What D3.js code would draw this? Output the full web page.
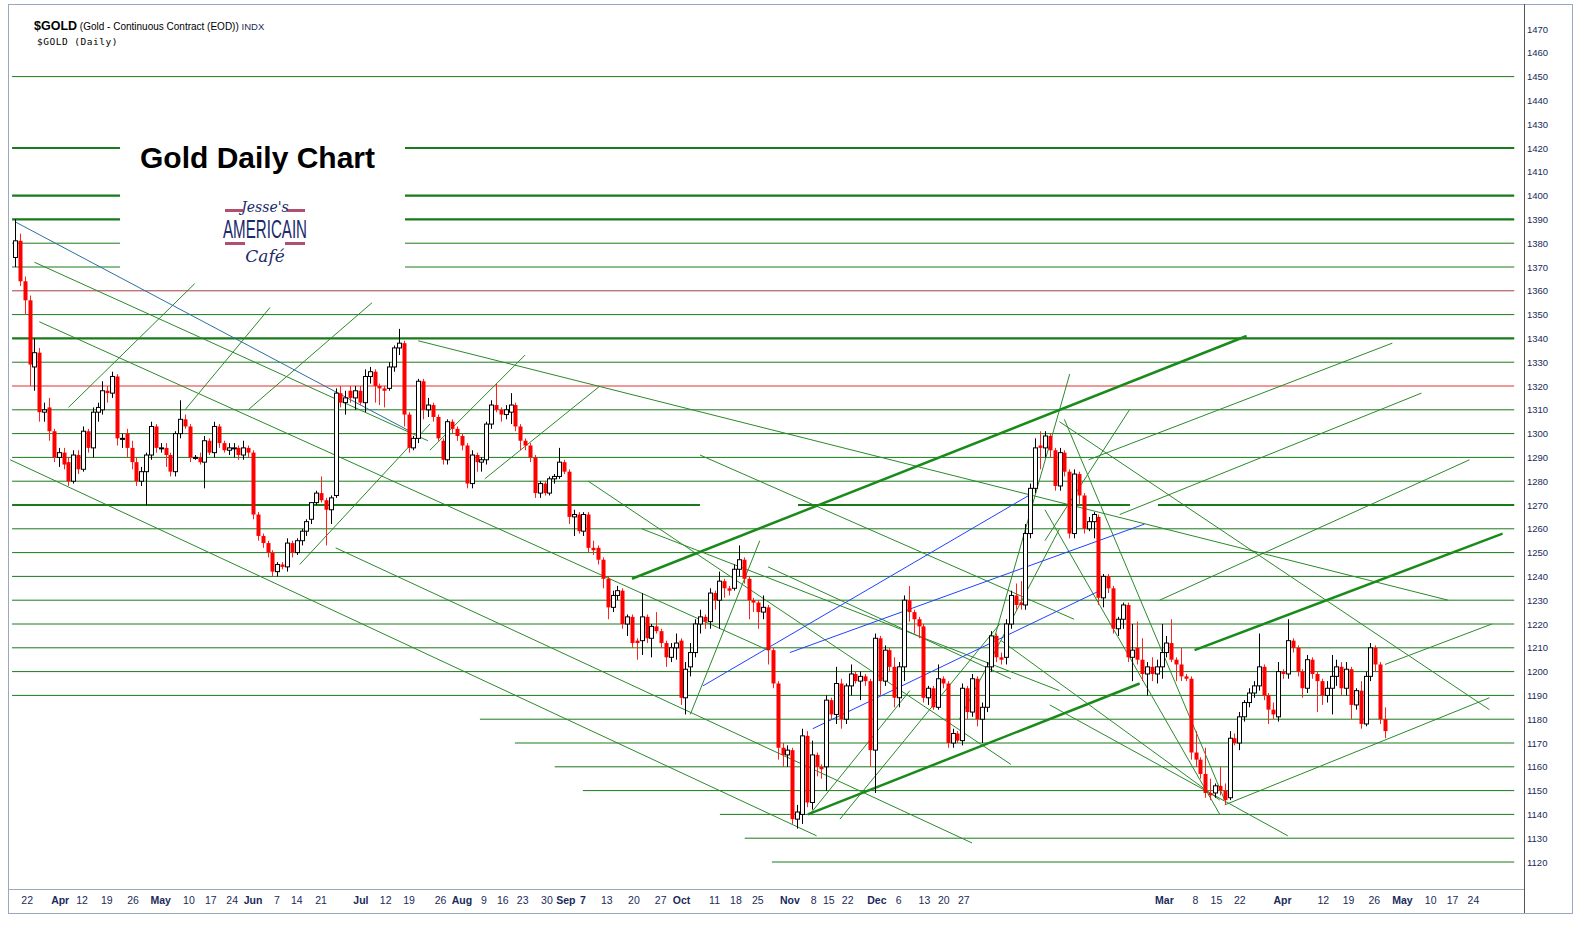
<!DOCTYPE html>
<html><head><meta charset="utf-8">
<script src="https://cdn.jsdelivr.net/npm/d3@7"></script>
<style>html,body{margin:0;padding:0;background:#fff;overflow:hidden}svg{display:block}</style>
</head><body><svg id="c" width="1578" height="934"></svg>
<script>
// ---- DATA ----
const ohlc = [
[1374,1390,1370,1381],[1381,1384,1362,1364],[1364,1366,1350,1356],[1356,1358,1320,1329],[1328,1340,1318,1334],
[1334,1336,1305,1309],[1309,1313,1305,1310],[1311,1315,1297,1301],[1301,1302,1288,1290],[1290,1294,1286,1292],
[1292,1294,1285,1287],[1288,1290,1278,1280],[1280,1293,1279,1291],[1291,1293,1283,1285],[1285,1303,1284,1301],
[1301,1302,1292,1294],[1294,1311,1290,1309],[1309,1313,1305,1311],[1310,1322,1308,1318],[1318,1320,1313,1317],
[1317,1326,1315,1324],[1324,1325,1295,1298],[1298,1300,1294,1298],[1300,1302,1290,1294],[1294,1297,1285,1288],
[1288,1290,1278,1280],[1280,1286,1278,1284],[1284,1292,1270,1291],[1291,1305,1289,1303],[1303,1304,1292,1294],
[1294,1296,1292,1294],[1294,1296,1286,1291],[1291,1292,1282,1284],[1284,1301,1282,1300],[1300,1314,1298,1306],
[1306,1308,1302,1303],[1303,1304,1288,1290],[1290,1291,1289,1290],[1290,1292,1287,1288],[1288,1299,1277,1297],
[1297,1298,1291,1292],[1292,1305,1290,1303],[1303,1304,1294,1296],[1296,1297,1292,1293],[1293,1296,1291,1294],
[1294,1296,1290,1294],[1294,1295,1289,1291],[1291,1297,1289,1294],[1294,1295,1290,1292],[1292,1293,1264,1266],
[1266,1267,1255,1257],[1257,1258,1252,1254],[1254,1255,1248,1250],[1250,1251,1240,1242],[1242,1246,1240,1245],
[1245,1246,1243,1244],[1244,1256,1242,1254],[1254,1255,1248,1250],[1250,1256,1249,1255],[1255,1260,1253,1259],
[1259,1264,1257,1263],[1264,1271,1262,1271],[1271,1276,1270,1275],[1275,1282,1271,1272],[1272,1273,1253,1268],
[1268,1274,1262,1273],[1274,1319,1273,1317],[1317,1320,1311,1313],
[1313,1318,1308,1315],[1318,1320,1313,1315],[1315,1320,1310,1318],[1318,1320,1312,1313],[1313,1327,1309,1324],
[1324,1328,1321,1326],[1326,1327,1313,1320],[1320,1321,1312,1319],[1319,1320,1311,1318],[1319,1330,1318,1328],
[1328,1337,1326,1336],[1336,1344,1333,1338],[1338,1339,1303,1308],[1308,1309,1292,1294],[1294,1299,1293,1298],
[1298,1323,1296,1322],[1322,1323,1306,1310],[1310,1315,1307,1312],[1312,1313,1305,1307],[1307,1308,1297,1298],
[1297,1298,1287,1289],[1289,1306,1287,1305],[1305,1306,1300,1302],[1302,1303,1297,1299],[1299,1300,1293,1295],
[1295,1296,1277,1279],[1279,1293,1277,1291],[1291,1292,1284,1288],[1288,1290,1284,1289],[1289,1305,1287,1304],
[1304,1314,1302,1312],[1312,1321,1309,1310],[1310,1311,1305,1308],[1308,1312,1306,1310],[1309,1317,1304,1312],
[1312,1313,1301,1303],[1303,1304,1293,1297],[1297,1298,1293,1295],[1295,1296,1288,1290],[1290,1291,1273,1275],
[1275,1280,1273,1279],[1279,1280,1274,1275],[1275,1282,1274,1281],[1281,1283,1279,1282],[1282,1294,1281,1288],
[1288,1289,1283,1284],[1284,1285,1262,1265],[1265,1268,1257,1266],[1266,1267,1258,1259],[1259,1267,1257,1266],
[1266,1267,1250,1252],[1252,1255,1249,1251],[1252,1253,1245,1247],[1247,1248,1235,1239],[1239,1240,1222,1227],
[1227,1234,1225,1232],[1232,1236,1230,1234],[1234,1235,1218,1220],[1220,1224,1215,1223],[1223,1224,1210,1212],
[1213,1214,1205,1212],[1213,1233,1207,1223],[1223,1224,1212,1214],[1214,1220,1206,1219],[1219,1225,1216,1217],
[1217,1218,1210,1212],[1212,1213,1202,1206],[1206,1212,1204,1210],[1210,1216,1205,1212],[1213,1214,1186,1189],
[1189,1204,1182,1201],[1202,1212,1198,1208],[1208,1222,1206,1220],[1220,1226,1216,1223],[1223,1224,1218,1221],
[1221,1235,1218,1233],[1233,1234,1226,1230],[1230,1242,1218,1238],[1238,1239,1231,1235],[1235,1236,1232,1234],
[1235,1245,1234,1243],[1243,1253,1240,1247],[1247,1248,1237,1239],[1239,1240,1222,1230],[1230,1231,1225,1229],
[1229,1230,1218,1225],[1225,1232,1222,1227],[1227,1228,1203,1209],[1209,1210,1193,1195],[1195,1196,1163,1168],
[1168,1170,1160,1165],[1165,1169,1160,1167],[1167,1168,1136,1138],[1138,1144,1134,1141],[1140,1176,1136,1173],
[1173,1175,1143,1145],[1145,1171,1142,1165],[1165,1166,1156,1160],[1160,1161,1155,1159],[1160,1190,1150,1188],
[1188,1189,1180,1182],[1182,1202,1178,1195],[1195,1197,1176,1180],[1180,1195,1178,1194],[1194,1203,1190,1199],
[1199,1200,1195,1196],[1196,1200,1188,1198],[1198,1199,1194,1196],[1196,1197,1160,1167],[1167,1216,1149,1214],
[1214,1215,1190,1196],[1196,1211,1194,1209],[1209,1210,1200,1202],[1202,1206,1185,1189],[1189,1204,1185,1202],
[1202,1232,1196,1230],[1230,1236,1221,1225],[1225,1226,1216,1222],[1222,1223,1214,1219],[1219,1220,1187,1189],
[1189,1194,1186,1193],[1193,1194,1184,1185],[1185,1203,1184,1197],[1197,1198,1193,1195],[1195,1196,1168,1170],
[1170,1176,1168,1174],[1174,1175,1170,1171],[1171,1195,1169,1193],[1193,1194,1180,1183],[1183,1199,1181,1197],
[1197,1198,1177,1180],[1180,1187,1170,1185],[1185,1204,1183,1202],[1202,1217,1200,1215],[1215,1216,1204,1206],
[1206,1208,1203,1205],[1206,1222,1203,1220],[1220,1234,1218,1232],[1232,1237,1226,1228],[1229,1238,1226,1228],
[1228,1262,1226,1258],[1258,1279,1256,1277],
[1277,1298,1275,1294],[1295,1301,1285,1294],[1294,1301,1290,1299],[1299,1300,1290,1293],[1293,1294,1276,1278],
[1278,1294,1276,1292],[1292,1293,1282,1284],[1284,1285,1256,1258],[1258,1285,1256,1283],[1283,1284,1270,1274],
[1274,1275,1258,1260],[1260,1265,1259,1263],[1263,1267,1256,1266],[1265,1266,1228,1231],[1231,1241,1227,1240],
[1240,1241,1233,1235],[1235,1236,1216,1218],[1218,1223,1215,1222],[1222,1229,1218,1228],[1228,1229,1204,1206],
[1206,1220,1196,1209],[1210,1221,1203,1205],[1205,1214,1196,1199],[1199,1204,1190,1202],[1202,1206,1196,1199],
[1199,1205,1195,1202],[1202,1220,1197,1208],[1208,1215,1206,1212],[1212,1222,1204,1205],[1205,1206,1196,1203],
[1203,1210,1196,1198],[1198,1199,1196,1197],[1197,1198,1163,1166],[1166,1175,1160,1163],[1163,1164,1155,1157],
[1157,1168,1147,1149],[1149,1155,1146,1148],[1149,1153,1147,1152],[1152,1160,1148,1150],[1150,1153,1144,1146],
[1147,1175,1146,1172],[1172,1174,1169,1170],[1170,1183,1167,1181],[1181,1188,1179,1187],[1187,1193,1185,1191],
[1191,1196,1189,1194],[1194,1216,1192,1202],[1202,1203,1188,1190],[1190,1191,1178,1184],[1184,1187,1180,1182],
[1181,1204,1179,1200],[1200,1201,1197,1199],[1199,1222,1197,1213],[1213,1214,1208,1210],[1210,1211,1198,1200],
[1200,1201,1189,1193],[1193,1207,1191,1205],[1205,1206,1197,1199],[1199,1200,1183,1196],[1196,1197,1186,1190],
[1190,1196,1187,1193],[1193,1207,1182,1198],[1198,1205,1194,1202],[1202,1204,1190,1193],[1193,1204,1190,1201],
[1201,1202,1180,1186],[1186,1193,1184,1192],[1192,1196,1176,1178],[1178,1200,1177,1198],[1198,1212,1196,1210],
[1210,1211,1200,1203],[1203,1204,1178,1180],[1180,1185,1172,1175]
];
const tickLabels = ["22","Apr","12","19","26","May","10","17","24","Jun","7","14","21","Jul","12","19","26","Aug","9","16","23","30","Sep","7","13","20","27","Oct","11","18","25","Nov","8","15","22","Dec","6","13","20","27","Mar","8","15","22","Apr","12","19","26","May","10","17","24"];
const tickPos = [2.5,9.3,13.8,18.9,24.3,30,35.8,40.3,44.7,49,53.9,58,63,71.2,76.3,81.1,87.6,92,96.5,100.4,104.5,109.5,113.4,116.9,121.8,127.4,132.9,137.2,144,148.4,152.9,159.5,164.4,167.5,171.4,177.4,181.9,187.2,191.2,195.3,236.6,243,247.3,252.1,260.9,269.3,274.5,279.8,285.6,291.4,295.9,300.2];
const monthLabels = ["Apr","May","Jun","Jul","Aug","Sep","Oct","Nov","Dec","Mar"];
const priceTicks = d3.range(1120,1471,10);
const levels = [1120,1130,1140,1150,1160,1170,1180,1190,1200,1210,1220,1230,1240,1250,1260,1270,1280,1290,1300,1310,1320,1330,1340,1350,1360,1370,1380,1390,1400,1420,1450];
const levelStart = {1120:155.8,1130:150.2,1140:145.1,1150:116.9,1160:111.1,1170:102.9,1180:95.7};
const thickLevels = [1270,1340,1390,1400,1420];
const redLevels = [1320,1360];
const titleGapLevels = [1370,1380,1390,1400,1420];
// trend lines [idx1, price1, idx2, price2]
const thickLines = [[127,1239,253.5,1341],[163.2,1140,231.5,1195],[242.8,1209,306.2,1258]];
const thinLines = [
[83,1339,295,1230],[-1,1289,165,1131],[66,1252,197,1128],[4,1372,85,1297],[5,1347,155,1209],
[118,1280,205,1161],[141,1291,218,1222],[215,1305,303.5,1184],[216,1306,249,1146],[212,1268,248,1140],
[213,1186,262,1131],[155,1244,205,1197],[129,1260,215,1192],[203,1213,248,1146],
[11,1311,37,1363],[35,1310,52.5,1353],[48,1310,73.5,1355],[58.6,1245,85.4,1304],[85.4,1293,105,1333],
[96.7,1281,120.4,1320],[221,1289,283.5,1338],[227.4,1266,289.5,1317],[235.6,1230,299.4,1289],
[282,1203,304,1220],[249,1144,303.5,1189],[163.6,1140,184.2,1192],[169.8,1138,202.7,1220],
[200.6,1207,217.1,1325],[194.4,1180,215,1260],[212,1255,229.4,1310],[139,1182,153.3,1255]
];
const blueLines = [[141.6,1194,209.5,1275],[159.5,1208,232.5,1262],[164.2,1176,223.3,1234]];
const tealLines = [[0,1389,81.3,1301]];

// ---- DRAW ----
const svg = d3.select("#c");
const x = d3.scaleLinear().domain([0,282]).range([15,1385]);
const y = d3.scaleLinear().domain([1120,1470]).range([862,29]);
const xLeft = -0.6, xRight = 308.6;

svg.append("rect").attr("x",8.5).attr("y",4.5).attr("width",1564).attr("height",909).attr("fill","#fff").attr("stroke","#9aa8c0");
svg.append("line").attr("x1",1524.5).attr("x2",1524.5).attr("y1",4).attr("y2",913).attr("stroke","#555");
svg.append("line").attr("x1",8).attr("x2",1524).attr("y1",889.5).attr("y2",889.5).attr("stroke","#9aa8c0");

const g = svg.append("g");
levels.forEach(p=>{
  const thick = thickLevels.includes(p), red = redLevels.includes(p);
  const col = red ? (p===1320?"#e03030":"#a04040") : "#1a7a1a";
  const sw = thick ? 2.2 : 1;
  const x0 = x(levelStart[p] !== undefined ? levelStart[p] : xLeft), x1 = x(xRight);
  const segs = titleGapLevels.includes(p) ? [[x0,120],[405,x1]] : (p===1270 ? [[x0,700],[798,1130],[1158,x1]] : [[x0,x1]]);
  segs.forEach(s=>g.append("line").attr("x1",s[0]).attr("x2",s[1]).attr("y1",y(p)).attr("y2",y(p))
    .attr("stroke",col).attr("stroke-width",sw));
});
const drawLines=(arr,col,w)=>arr.forEach(l=>g.append("line").attr("x1",x(l[0])).attr("y1",y(l[1]))
  .attr("x2",x(l[2])).attr("y2",y(l[3])).attr("stroke",col).attr("stroke-width",w));
drawLines(thinLines,"#2a8a2a",1);
drawLines(blueLines,"#2040ff",1);
drawLines(tealLines,"#2a70a0",1);
drawLines(thickLines,"#1a8a1a",2.5);

// candles
const cw = 4;
const cg = svg.append("g");
ohlc.forEach((d,i)=>{
  const [o,h,l,c]=d, up=c>=o, cx=Math.round(x(i))+0.5;
  cg.append("line").attr("x1",cx).attr("x2",cx).attr("y1",y(h)).attr("y2",y(l)).attr("stroke",up?"#000":"#ff2020").attr("stroke-width",1);
  const top=y(Math.max(o,c)), bot=y(Math.min(o,c));
  cg.append("rect").attr("x",cx-cw/2).attr("y",top).attr("width",cw).attr("height",Math.max(1,bot-top))
    .attr("fill",up?"#fff":"#ff0000").attr("stroke",up?"#000":"none").attr("stroke-width",1);
});

// right axis
const ax = svg.append("g").attr("transform","translate(1524,0)");
priceTicks.forEach(p=>{
  ax.append("text").attr("x",3).attr("y",y(p)+3.5).text(p).attr("font-family","Liberation Sans, Arial").attr("font-size",9.5).attr("fill","#1a2a5a");
});
// bottom axis
tickLabels.forEach((t,i)=>{
  svg.append("text").attr("x",x(tickPos[i])).attr("y",904).attr("text-anchor","middle").text(t)
    .attr("font-family","Liberation Sans Narrow, Liberation Sans, Arial").attr("font-size",10.5)
    .attr("font-weight",(monthLabels.includes(t))||(t==="7"&&tickLabels[i-1]==="Sep")?"bold":"normal")
    .attr("fill","#1a2a5a");
});

// header
const hd = svg.append("text").attr("x",34).attr("y",30).attr("font-family","Liberation Sans, Arial").attr("fill","#000");
hd.append("tspan").text("$GOLD").attr("font-size",12.5).attr("font-weight","bold");
hd.append("tspan").text(" (Gold - Continuous Contract (EOD)) ").attr("font-size",10);
hd.append("tspan").text("INDX").attr("font-size",9.5).attr("fill","#1a2a5a");
svg.append("text").attr("x",37).attr("y",45).text("$GOLD (Daily)").attr("font-family","DejaVu Sans Mono, monospace").attr("font-size",9.5).attr("letter-spacing",0.5).attr("fill","#000");
svg.append("text").attr("x",140).attr("y",168).text("Gold Daily Chart").attr("font-family","Liberation Sans, Arial").attr("font-size",30).attr("font-weight","bold").attr("fill","#000");
// logo
const lg = svg.append("g").attr("transform","translate(265,228)");
lg.append("rect").attr("x",-40).attr("y",-19).attr("width",18).attr("height",3).attr("fill","#b05070");
lg.append("rect").attr("x",22).attr("y",-19).attr("width",18).attr("height",3).attr("fill","#b05070");
lg.append("text").attr("x",0).attr("y",-16).attr("text-anchor","middle").text("Jesse's").attr("font-family","DejaVu Serif").attr("font-style","italic").attr("font-size",14).attr("fill","#1a2a6a");
lg.append("text").attr("x",0).attr("y",10).attr("text-anchor","middle").text("AMERICAIN").attr("font-family","Liberation Sans Narrow, Liberation Sans").attr("font-size",26).attr("textLength",84).attr("lengthAdjust","spacingAndGlyphs").attr("fill","#1a2a6a");
lg.append("rect").attr("x",-40).attr("y",14).attr("width",20).attr("height",3).attr("fill","#b05070");
lg.append("rect").attr("x",20).attr("y",14).attr("width",20).attr("height",3).attr("fill","#b05070");
lg.append("text").attr("x",0).attr("y",34).attr("text-anchor","middle").text("Café").attr("font-family","DejaVu Serif").attr("font-style","italic").attr("font-size",17).attr("fill","#1a2a6a");
</script></body></html>
